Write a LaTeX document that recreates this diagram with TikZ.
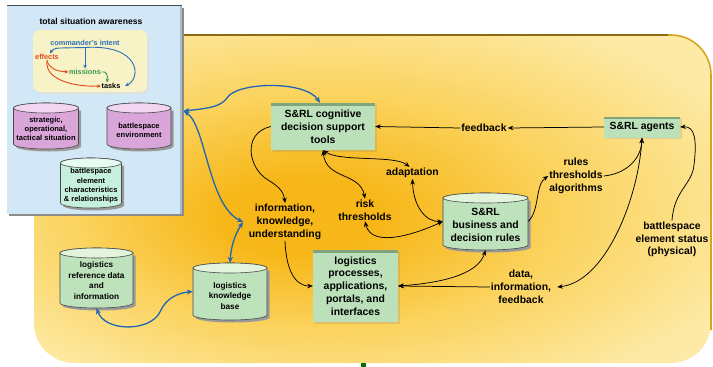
\documentclass[tikz,border=0pt]{standalone}
\usepackage{fontspec}
\setmainfont{Liberation Sans}
\usetikzlibrary{arrows.meta,shadows}
\definecolor{bgC}{HTML}{F7B719}
\definecolor{bgM}{HTML}{FBD35E}
\definecolor{bgE}{HTML}{FDEAA6}
\definecolor{gold}{HTML}{D8A520}
\definecolor{olive}{HTML}{8C6D12}
\definecolor{panelblue}{HTML}{D2E8F7}
\definecolor{paleyel}{HTML}{F7F3C6}
\definecolor{pinkbody}{HTML}{DAA6DA}
\definecolor{pinktop}{HTML}{F2D6F1}
\definecolor{tealbody}{HTML}{C6F0DE}
\definecolor{tealtop}{HTML}{E6FBF1}
\definecolor{grnbody}{HTML}{BEE2BC}
\definecolor{grntop}{HTML}{E2F4DC}
\definecolor{boxgreen}{HTML}{BBE0BA}
\definecolor{boxtop}{HTML}{7FA57F}
\definecolor{cylline}{HTML}{4A4A4A}
\definecolor{linkblue}{HTML}{1F66B5}
\definecolor{cblue}{HTML}{2B6DB8}
\definecolor{cred}{HTML}{E2471C}
\definecolor{cgreen}{HTML}{3C9A52}
\pgfdeclareradialshading{bgshade}{\pgfpoint{-6bp}{-3bp}}{color(0bp)=(bgC); color(6bp)=(bgC); color(18bp)=(bgM); color(32bp)=(bgE); color(50bp)=(bgE)}
\newcommand\drawcyl[8]{%
 \fill[black!40] ({#2-#4/2+2.5},{#3-#5/2+7.5}) -- ++(0,{#5-10}) arc[start angle=180,end angle=360,x radius=#4*0.5pt,y radius=5pt] -- ++(0,{10-#5}) -- cycle;
 \draw[fill=#6, draw=#8, line width=0.6pt] ({#2-#4/2},{#3-#5/2+5}) -- ++(0,{#5-10}) arc[start angle=180,end angle=360,x radius=#4*0.5pt,y radius=5pt] -- ++(0,{10-#5}) arc[start angle=0,end angle=180,x radius=#4*0.5pt,y radius=5pt] -- cycle;
 \draw[fill=#7, draw=#8, line width=0.6pt] (#2,{#3-#5/2+5}) ellipse[x radius=#4*0.5pt, y radius=5pt];
 \node[inner sep=0pt, minimum width=#4pt, minimum height=#5pt] (#1) at (#2,#3) {};
}
\begin{document}
\begin{tikzpicture}[x=1pt,y=-1pt,
 lbl/.style={font=\fontsize{10.4}{12.8}\selectfont\bfseries, align=center, inner sep=1pt},
 tiny/.style={font=\fontsize{7.3}{9}\selectfont\bfseries, align=center, inner sep=0.5pt},
 ctxt/.style={font=\fontsize{7.5}{9.3}\selectfont\bfseries, align=center, inner sep=0pt},
 ltxt/.style={font=\fontsize{8.2}{10.5}\selectfont\bfseries, align=center, inner sep=0pt},
 box/.style={fill=boxgreen, inner sep=0pt, align=center, font=\fontsize{10.4}{12.8}\selectfont\bfseries,
   drop shadow={opacity=0.2,shadow xshift=1.5pt,shadow yshift=-1.5pt},
   path picture={\fill[boxtop] (path picture bounding box.north west) rectangle ([yshift=-2.5pt]path picture bounding box.north east);}},
 arr/.style={-{Stealth[length=5.5pt,width=4.5pt]}, line width=0.75pt},
 arrb/.style={{Stealth[length=5.5pt,width=4.5pt]}-{Stealth[length=5.5pt,width=4.5pt]}, line width=0.75pt},
 barr/.style={{Stealth[length=6pt,width=5pt]}-{Stealth[length=6pt,width=5pt]}, line width=1.3pt, draw=linkblue, color=linkblue},
 sarr/.style={-{Stealth[length=4pt,width=3.5pt]}, line width=0.9pt},
]
\useasboundingbox (0,0) rectangle (713,367);
\fill[white] (0,0) rectangle (713,367);
% yellow background
\shade[shading=bgshade, rounded corners=40pt] (34,35) rectangle (711,363);
\draw[gold, line width=1.6pt, rounded corners=40pt] (183,35) -- (711,35) -- (711,330);
\draw[olive, line width=2.2pt] (183,35) -- (668,35);
% panel
\fill[black!45] (9,8) rectangle (184,216);
\fill[panelblue] (7,5) rectangle (182,213.5);
\fill[panelblue!80!black] (179.5,6) rectangle (182,213.5);
\draw[black!70, line width=1.5pt] (7,5.5) -- (182,5.5);
\node[font=\fontsize{8.6}{10}\selectfont\bfseries] (title) at (91,21) {total situation awareness};
\fill[black!12, rounded corners=7pt] (35,32) rectangle (149,94);
\fill[paleyel, rounded corners=7pt] (33,30) rectangle (147,92);
\node[tiny, text=cblue] (ci) at (85,43) {commander's intent};
\node[tiny, text=cred] (ef) at (47,57) {effects};
\node[tiny, text=cgreen] (mi) at (85,72) {missions};
\node[tiny] (ta) at (111,86) {tasks};
\coordinate (cis) at (85,47.5);
\draw[sarr, cblue] (cis) -- (60,48) .. controls (55,48) and (52,50) .. ([xshift=3pt]ef.north);
\draw[sarr, cblue] (cis) -- (mi.north);
\draw[sarr, cblue] (cis) .. controls (140,44) and (142,78) .. ([xshift=4pt]ta.east);
\draw[sarr, cred] (ef.south) .. controls (49,68) and (55,71) .. (mi.west);
\draw[sarr, cred] (ef.south) .. controls (44,82) and (80,87) .. (ta.west);
\draw[sarr, cgreen] (mi.east) .. controls (106,71) and (108,74) .. ([xshift=-4pt]ta.north);
% cylinders
\drawcyl{strat}{46}{126}{65}{46}{pinkbody}{pinktop}{cylline}
\node[ctxt] (stratt) at (46,129) {strategic,\\operational,\\tactical situation};
\drawcyl{env}{139}{126}{64}{46}{pinkbody}{pinktop}{cylline}
\node[ctxt] (envt) at (139,130) {battlespace\\environment};
\drawcyl{elem}{91}{183}{61}{50}{tealbody}{tealtop}{cylline}
\node[ctxt] (elemt) at (91,186) {battlespace\\element\\characteristics\\\& relationships};
\drawcyl{biz}{485.5}{221.5}{85}{57}{grnbody}{grntop}{cylline}
\node[lbl] (bizt) at (485.5,225) {S\&RL\\business and\\decision rules};
\drawcyl{ref}{96.5}{278}{73}{60}{grnbody}{grntop}{cylline}
\node[ltxt] (reft) at (96.5,280.5) {logistics\\reference data\\and\\information};
\drawcyl{kb}{230}{291.5}{74}{57}{grnbody}{grntop}{cylline}
\node[ltxt] (kbt) at (230,296) {logistics\\knowledge\\base};
% boxes
\node[box, minimum width=104pt, minimum height=47pt] (cog) at (323,126.5) {S\&RL cognitive\\decision support\\tools};
\node[box, minimum width=76pt, minimum height=21pt] (agents) at (642,127) {S\&RL agents};
\node[box, minimum width=85pt, minimum height=72pt] (proc) at (355.5,286) {logistics\\processes,\\applications,\\portals, and\\interfaces};
% labels
\node[lbl] (fb) at (484,128) {feedback};
\node[lbl] (adapt) at (412.5,173) {adaptation};
\node[lbl] (risk) at (365,210) {risk\\thresholds};
\node[lbl] (info) at (285,222) {information,\\knowledge,\\understanding};
\node[lbl] (rules) at (576,176) {rules\\thresholds\\algorithms};
\node[lbl] (status) at (672,239.5) {battlespace\\element status\\(physical)};
\node[lbl] (data) at (521,287) {data,\\information,\\feedback};
% black connectors
\draw[arr] (cog.west) .. controls (242,133) and (248,168) .. (268,180) .. controls (280,187) and (284,193) .. (info.north);
\draw[arr] (info.south) .. controls (286,268) and (294,286) .. (proc.west);
\draw[arrb] (cog.south) .. controls (340,162) and (395,155) .. ([xshift=-3pt]adapt.north);
\draw[arrb] (cog.south) .. controls (326,180) and (360,172) .. (risk.north);
\draw[arrb] (adapt.south) .. controls (413,205) and (425,222) .. (biz.west);
\draw[arrb] (risk.south) .. controls (372,250) and (420,232) .. (biz.west);
\draw[arr] (biz.east) .. controls (540,210) and (535,185) .. (rules.west);
\draw[arr] (rules.east) .. controls (625,174) and (641,160) .. (agents.south);
\draw[arrb] ([xshift=5pt]data.east) .. controls (605,282) and (638,200) .. (agents.south);
\draw[arr] (agents.west) -- (fb.east);
\draw[arr] (fb.west) -- (cog.east);
\draw[arr] (status.north) .. controls (674,190) and (692,185) .. (694,165) .. controls (697,140) and (695,126) .. (agents.east);
\draw[arr] (data.west) -- (proc.east);
\draw[arrb] (proc.east) .. controls (440,283) and (478,275) .. (biz.south);
% blue connectors
\coordinate (pan) at (183.5,111);
\coordinate (infow) at (243,222);
\draw[barr] (pan) .. controls (212,108) and (221,106) .. (227,98) .. controls (236,82) and (305,80) .. ([xshift=-3pt]cog.north);
\draw[barr] (pan) .. controls (206,125) and (208,205) .. (infow);
\draw[barr] (infow) .. controls (234,236) and (231,248) .. (kb.north);
\draw[barr] (ref.south) .. controls (105,332) and (150,332) .. (160,312) .. controls (166,298) and (178,293) .. (kb.west);
\fill[green!45!black] (361,363) rectangle (366,367);
\end{tikzpicture}
\end{document}
